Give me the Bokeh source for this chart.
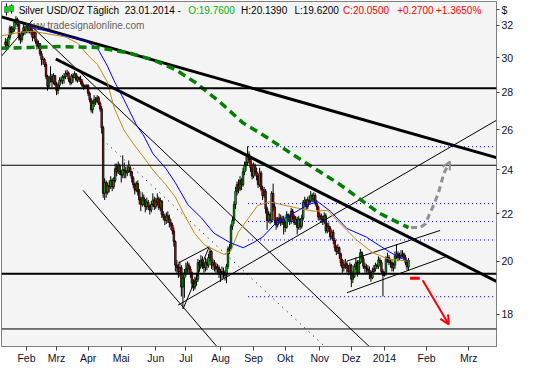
from bokeh.plotting import figure
from bokeh.models import (FixedTicker, Span, Label, Arrow, OpenHead, Range1d,
                          ColumnDataSource, BoxAnnotation)
from bokeh.embed import file_html
from bokeh.resources import INLINE

FONT = "Liberation Sans"

# ---------------- data (daily bars, Jan 14 2013 .. Jan 23 2014) ----------------
first_open = 30.8
closes = [
    30.95, 30.75, 31.25, 31.85, 31.6,
    31.75, 32.2, 32.4, 32.05, 31.2,
    31.1, 31.5, 31.85, 31.6, 31.95,
    31.7, 31.85, 31.6, 31.25, 31.55,
    31.0, 30.7, 30.85, 30.25, 29.9,
    29.9, 29.6, 28.9, 28.35, 28.8,
    28.9, 28.6, 28.95, 28.45, 28.1,
    28.4, 28.7, 28.65, 28.85, 28.9,
    29.05, 29.1, 28.75, 28.55, 28.95,
    28.85, 29.05, 28.7, 28.85, 28.75,
    28.6, 28.4, 28.3, 28.35, 28.4,
    27.95, 27.6, 27.05, 27.4, 27.6,
    27.5, 27.7, 27.4, 27.1, 26.1,
    22.9, 23.4, 22.95, 23.25, 23.2,
    23.5, 23.2, 23.5, 24.05, 23.9,
    24.2, 23.9, 23.75, 24.0, 23.95,
    23.85, 23.95, 24.1, 23.9, 23.6,
    23.3, 23.05, 23.35, 23.0, 22.6,
    22.4, 22.7, 22.55, 22.3, 22.5,
    22.3, 22.15, 22.4, 22.6, 22.3,
    22.5, 22.65, 22.25, 22.55, 21.95,
    21.85, 21.7, 21.9, 21.8, 21.6,
    21.5, 21.25, 20.8, 19.85, 19.75,
    19.6, 19.75, 19.0, 19.35, 19.55,
    19.7, 19.85, 19.7, 19.55, 19.15,
    19.0, 19.2, 19.3, 19.95, 19.85,
    20.05, 19.9, 19.75, 19.95, 19.85,
    20.15, 20.4, 19.85, 19.95, 19.8,
    19.7, 19.75, 19.5, 19.55, 19.6,
    19.55, 19.45, 19.8, 20.5, 20.55,
    21.45, 21.7, 22.4, 23.0, 23.3,
    23.1, 23.5, 23.3, 23.9, 24.2,
    24.35, 24.75, 24.5, 24.1, 23.7,
    24.2, 23.9, 23.7, 23.3, 23.85,
    23.1, 22.8, 23.0, 22.2, 21.7,
    21.95, 21.7, 22.9, 22.3, 21.7,
    21.5, 21.7, 21.8, 21.6, 21.75,
    21.6, 21.4, 21.95, 21.85, 21.65,
    22.1, 21.85, 21.6, 21.75, 21.4,
    21.75, 21.45, 21.8, 22.5, 22.6,
    22.3, 22.6, 22.55, 22.8, 22.65,
    22.8, 22.45, 22.3, 21.85, 21.9,
    21.75, 21.65, 21.9, 21.25, 21.45,
    21.35, 21.0, 21.2, 20.85, 20.55,
    20.4, 20.55, 20.3, 19.95, 19.75,
    19.85, 19.9, 19.75, 19.6, 19.85,
    19.3, 19.4, 19.8, 19.95, 19.55,
    19.95, 20.35, 20.1, 19.8, 19.75,
    19.7, 19.65, 19.55, 19.35, 19.6,
    19.7, 19.85, 19.8, 20.05, 19.95,
    19.6, 19.45, 19.5, 20.1, 20.15,
    19.95, 19.95, 19.75, 19.85, 20.2,
    20.3, 20.15, 20.2, 20.25, 20.3,
    20.15, 19.95, 19.78, 20.05,
]
highs = [
    31.2, 31.15, 31.4, 32.0, 31.95,
    31.95, 32.35, 32.6, 32.5, 32.15,
    31.4, 31.65, 32.1, 31.95, 32.15,
    32.1, 31.95, 32.0, 31.75, 31.7,
    31.6, 31.15, 31.05, 30.9, 30.4,
    30.1, 30.0, 29.75, 29.0, 28.95,
    29.5, 29.05, 29.1, 29.0, 28.6,
    28.55, 28.85, 28.9, 29.0, 29.1,
    29.25, 29.3, 29.2, 28.9, 29.05,
    29.1, 29.2, 29.1, 28.95, 28.9,
    28.95, 28.75, 28.5, 28.45, 28.45,
    28.45, 28.05, 27.7, 27.55, 27.85,
    27.75, 27.85, 27.8, 27.5, 27.25,
    26.2, 23.6, 23.5, 23.4, 23.5,
    23.7, 23.6, 23.65, 24.3, 24.3,
    24.4, 24.3, 24.0, 24.7, 24.35,
    24.15, 24.2, 24.45, 24.2, 23.95,
    23.7, 23.4, 23.45, 23.5, 23.1,
    22.75, 22.95, 22.85, 22.65, 22.7,
    22.6, 22.4, 22.55, 22.9, 22.75,
    22.7, 22.9, 22.75, 22.7, 22.6,
    22.1, 22.0, 22.05, 22.1, 21.95,
    21.75, 21.6, 21.4, 20.85, 20.05,
    19.9, 20.0, 19.85, 19.45, 19.7,
    19.95, 20.0, 19.95, 19.8, 19.6,
    19.3, 19.4, 19.55, 20.1, 20.05,
    20.25, 20.2, 20.0, 20.15, 20.1,
    20.3, 20.55, 20.45, 20.1, 20.05,
    19.95, 19.9, 19.85, 19.7, 19.8,
    19.75, 19.65, 19.9, 20.6, 20.7,
    21.55, 21.85, 22.55, 23.2, 23.45,
    23.55, 23.7, 23.6, 24.1, 24.4,
    24.65, 25.15, 24.9, 24.6, 24.3,
    24.35, 24.3, 24.1, 23.8, 24.1,
    23.95, 23.25, 23.2, 23.1, 22.3,
    22.1, 22.05, 23.0, 23.35, 22.5,
    21.85, 21.85, 22.0, 21.95, 21.9,
    21.9, 21.7, 22.1, 22.0, 21.95,
    22.25, 22.2, 21.95, 21.9, 21.85,
    21.9, 21.8, 21.95, 22.6, 22.75,
    22.65, 22.75, 22.8, 23.0, 22.9,
    22.95, 22.9, 22.6, 22.35, 22.05,
    22.0, 21.9, 22.05, 22.0, 21.6,
    21.6, 21.45, 21.3, 21.3, 20.95,
    20.65, 20.7, 20.6, 20.35, 20.1,
    20.05, 20.1, 20.0, 19.85, 19.95,
    19.9, 19.6, 19.9, 20.15, 20.05,
    20.05, 20.5, 20.4, 20.2, 19.95,
    19.9, 19.85, 19.8, 19.65, 19.75,
    19.85, 19.95, 19.9, 20.2, 20.15,
    20.05, 19.7, 19.6, 20.2, 20.35,
    20.25, 20.1, 20.05, 19.95, 20.4,
    20.7, 20.4, 20.35, 20.45, 20.45,
    20.35, 20.25, 20.05, 20.139,
]
lows = [
    30.6, 30.55, 30.65, 31.1, 31.4,
    31.45, 31.6, 32.0, 31.9, 31.05,
    30.85, 30.95, 31.35, 31.4, 31.5,
    31.5, 31.5, 31.4, 31.0, 31.15,
    30.85, 30.5, 30.55, 30.1, 29.55,
    29.6, 29.45, 28.75, 28.1, 28.2,
    28.55, 28.3, 28.45, 28.35, 27.85,
    27.9, 28.25, 28.5, 28.45, 28.5,
    28.75, 28.9, 28.6, 28.4, 28.45,
    28.55, 28.8, 28.6, 28.55, 28.6,
    28.45, 28.3, 28.15, 28.2, 28.3,
    27.8, 27.45, 26.9, 26.85, 27.2,
    27.3, 27.4, 27.3, 26.95, 25.8,
    22.7, 22.6, 22.7, 22.85, 22.95,
    23.1, 23.0, 23.1, 23.4, 23.7,
    23.8, 23.75, 23.4, 23.6, 23.6,
    23.6, 23.7, 23.85, 23.7, 23.4,
    23.15, 22.85, 22.95, 22.8, 22.4,
    22.1, 22.3, 22.35, 22.05, 22.15,
    22.15, 21.95, 22.05, 22.3, 22.15,
    22.2, 22.35, 22.15, 22.1, 21.8,
    21.7, 21.5, 21.55, 21.6, 21.4,
    21.3, 21.1, 20.6, 19.6, 19.5,
    19.35, 19.4, 18.65, 18.2, 18.6,
    19.4, 19.55, 19.5, 19.35, 18.95,
    18.85, 18.9, 19.05, 19.2, 19.6,
    19.75, 19.7, 19.55, 19.6, 19.65,
    19.75, 20.0, 19.7, 19.65, 19.6,
    19.5, 19.55, 19.35, 19.2, 19.3,
    19.35, 19.25, 19.15, 19.7, 20.3,
    20.45, 21.3, 21.55, 22.2, 22.8,
    22.9, 23.0, 23.05, 23.2, 23.75,
    23.95, 24.2, 24.3, 23.9, 23.55,
    23.6, 23.75, 23.5, 23.15, 23.2,
    23.0, 22.6, 22.7, 22.0, 21.3,
    21.6, 21.55, 21.6, 22.1, 21.55,
    21.3, 21.4, 21.55, 21.45, 21.5,
    21.1, 21.2, 21.35, 21.65, 21.5,
    21.55, 21.7, 21.5, 21.5, 21.1,
    21.3, 21.3, 21.35, 21.7, 22.35,
    22.15, 22.2, 22.4, 22.45, 22.5,
    22.5, 22.35, 22.15, 21.7, 21.7,
    21.6, 21.5, 21.55, 21.15, 21.15,
    21.2, 20.85, 20.9, 20.7, 20.4,
    20.25, 20.3, 20.1, 19.8, 19.55,
    19.6, 19.7, 19.55, 19.45, 19.5,
    19.0, 19.15, 19.35, 19.65, 19.4,
    19.5, 19.9, 19.95, 19.7, 19.55,
    19.55, 19.5, 19.3, 19.2, 19.3,
    19.5, 19.6, 19.7, 19.7, 19.8,
    19.5, 18.65, 19.4, 19.45, 19.95,
    19.85, 19.75, 19.6, 19.6, 19.7,
    20.1, 20.0, 20.05, 20.1, 20.15,
    20.05, 19.85, 19.65, 19.62,
]

# month ticks (bar index of first trading day of month)
month_ticks = [14, 34, 55, 77, 100, 120, 143, 165, 186, 209, 230, 252, 280, 308]
month_labels = ["Feb", "Mrz", "Apr", "Mai", "Jun", "Jul", "Aug", "Sep", "Okt",
                "Nov", "Dez", "2014", "Feb", "Mrz"]
price_ticks = [18, 20, 22, 24, 26, 28, 30, 32]
currency_label = "$"
currency_pos = 33.0   # unit label sits at the top of the price axis

# indicator lines (bar index, price)
blue_x = [14.8, 25.8, 40.0, 52.9, 61.3, 67.7, 72.3, 78.7, 87.1, 91.6, 98.1, 106.5, 112.9,
          121.3, 130.3, 138.7, 149.7, 158.1, 164.5, 171.0, 179.4, 190.3, 201.3, 207.7,
          216.1, 227.1, 240.0, 252.9, 261.3, 268]
blue_y = [31.86, 31.69, 31.33, 31.04, 30.57, 29.53, 28.65, 27.62, 26.24, 25.74, 24.78,
          24.08, 23.40, 22.39, 21.81, 21.15, 20.75, 20.55, 20.75, 20.99, 21.56, 21.97,
          22.39, 22.52, 22.10, 21.35, 20.99, 20.47, 20.17, 20.01]
orange_x = [-3.2, 9.7, 18.1, 29.0, 40.0, 48.4, 54.8, 61.3, 67.7, 72.3, 78.7, 85.2, 91.6,
            98.1, 106.5, 112.9, 119.4, 125.8, 132.3, 138.7, 145.2, 149.7, 154.8, 162.6,
            167.7, 175.5, 183.9, 194.8, 205.2, 214.2, 222.6, 233.5, 243.9, 254.8, 268]
orange_y = [31.33, 31.57, 31.63, 31.45, 31.27, 30.86, 30.16, 29.59, 28.59, 27.16, 25.99,
            25.26, 24.64, 23.99, 23.31, 22.74, 21.89, 21.15, 20.67, 20.47, 20.28, 20.40,
            21.19, 21.89, 22.35, 22.52, 22.39, 22.23, 22.10, 22.14, 21.56, 20.87, 20.36,
            20.09, 20.01]
green_x = [-3.2, 16.1, 35.5, 61.3, 82.6, 98.1, 112.9, 125.8, 141.9, 158.1, 171.0, 182.6,
           190.3, 205.2, 220.6, 235.5, 248.4, 268]
green_y = [30.57, 30.62, 30.68, 30.62, 30.28, 29.88, 29.31, 28.59, 27.52, 26.34, 25.74,
           25.16, 24.78, 24.08, 23.40, 22.65, 22.02, 21.39]

# projection scenario
up_x = [269.7, 275.5, 279.4, 281.9, 285.2, 288.4, 291.6]
up_y = [21.39, 21.39, 21.56, 21.97, 22.44, 23.04, 23.85]
up_tip = (295.5, 24.40)
down_flat_x = [269.0, 275.5]
down_flat_y = [19.34, 19.34]
down_arrow = (277.4, 19.26, 294.8, 17.64)

# horizontal levels
hlevels_thick = [28.23, 19.51]
hlevels_thin = [24.22, 17.48]
fib_start = 161.3
fib_levels = [25.13, 22.44, 21.65, 20.87, 18.64]

# trend lines (x0, y0, x1, y1)
thick_lines = [(-2.6, 32.55, 326.5, 24.59), (33.5, 29.93, 326.5, 19.22)]
thin_lines = [(16.1, 32.06, 241.9, 16.88), (51.6, 23.04, 140.6, 16.88),
              (114.8, 18.33, 326.5, 26.49), (118.1, 18.19, 135.5, 20.59),
              (114.8, 19.93, 135.5, 20.59), (227.1, 18.79, 293.5, 20.20),
              (227.1, 20.01, 289.0, 21.27), (-2.6, 30.1, 18.1, 32.35)]
dotted_lines = [(64.5, 25.50, 212.3, 16.88)]

# ---------------- layout ----------------
X_START, X_END = -2.6, 326.5
Y_LOW, Y_HIGH = 16.88, 33.56
FW, FH = 495, 345

opens = [first_open] + closes[:-1]
idx = list(range(len(closes)))
tops = [max(o, c) for o, c in zip(opens, closes)]
bots = [min(o, c) for o, c in zip(opens, closes)]
cols = ["#00ff00" if c >= o else "#ff0000" for o, c in zip(opens, closes)]
src = ColumnDataSource(dict(x=idx, hi=highs, lo=lows, top=tops, bot=bots, col=cols))

p = figure(frame_width=FW, frame_height=FH, output_backend="svg", toolbar_location=None,
           y_axis_type="log", y_axis_location="right",
           x_range=Range1d(X_START, X_END), y_range=Range1d(Y_LOW, Y_HIGH),
           min_border_left=1, min_border_top=1, min_border_right=22, min_border_bottom=18)
p.background_fill_color = "#f4f4f4"
p.border_fill_color = "white"
p.outline_line_color = "#808080"
p.xgrid.visible = False
p.ygrid.visible = False

p.xaxis.ticker = FixedTicker(ticks=month_ticks)
p.xaxis.major_label_overrides = {t: l for t, l in zip(month_ticks, month_labels)}
p.xaxis.major_label_text_align = "left"
p.xaxis.minor_tick_line_color = None
p.xaxis.major_tick_out = 4
p.xaxis.major_tick_in = 0
p.xaxis.major_label_standoff = 1
yt = price_ticks + [currency_pos]
p.yaxis.ticker = FixedTicker(ticks=yt)
ov = {t: str(t) for t in price_ticks}
ov[currency_pos] = currency_label
p.yaxis.major_label_overrides = ov
p.yaxis.minor_tick_line_color = None
p.yaxis.major_tick_out = 3
p.yaxis.major_tick_in = 0
p.yaxis.major_label_standoff = 2
for ax in (p.xaxis, p.yaxis):
    ax.axis_line_color = "#808080"
    ax.major_tick_line_color = "#404040"
    ax.major_label_text_font = FONT
    ax.major_label_text_font_size = "10.5px"
    ax.major_label_text_color = "#101030"

# candles
p.segment(x0="x", y0="lo", x1="x", y1="hi", source=src, line_color="black", line_width=1)
p.vbar(x="x", width=1.0, top="top", bottom="bot", source=src, fill_color="col",
       line_color="black", line_width=0.8)

# horizontal levels
for lv in hlevels_thick:
    p.add_layout(Span(location=lv, dimension="width", line_color="black", line_width=2))
for lv in hlevels_thin:
    p.add_layout(Span(location=lv, dimension="width", line_color="black", line_width=1))
p.segment(x0=[fib_start] * len(fib_levels), y0=fib_levels,
          x1=[X_END] * len(fib_levels), y1=fib_levels,
          line_color="#0000ff", line_width=1, line_dash="1 3")

# trend lines
p.segment(x0=[l[0] for l in thin_lines], y0=[l[1] for l in thin_lines],
          x1=[l[2] for l in thin_lines], y1=[l[3] for l in thin_lines],
          line_color="black", line_width=1)
p.segment(x0=[l[0] for l in dotted_lines], y0=[l[1] for l in dotted_lines],
          x1=[l[2] for l in dotted_lines], y1=[l[3] for l in dotted_lines],
          line_color="black", line_width=1, line_dash="1 5")
p.segment(x0=[l[0] for l in thick_lines], y0=[l[1] for l in thick_lines],
          x1=[l[2] for l in thick_lines], y1=[l[3] for l in thick_lines],
          line_color="black", line_width=3)

# moving averages
p.line(orange_x, orange_y, line_color="#c08a10", line_width=1)
p.line(blue_x, blue_y, line_color="#0000ff", line_width=1)
p.line(green_x, green_y, line_color="#008000", line_width=3.5, line_dash="8 5")

# scenarios
p.line(up_x, up_y, line_color="#909090", line_width=3, line_dash="6 4")
p.add_layout(Arrow(end=OpenHead(line_color="#909090", line_width=2, size=8),
                   x_start=up_x[-1], y_start=up_y[-1], x_end=up_tip[0], y_end=up_tip[1],
                   line_color="#909090", line_width=3, line_dash="6 4"))
p.line(down_flat_x, down_flat_y, line_color="#ff0000", line_width=3)
p.add_layout(Arrow(end=OpenHead(line_color="#ff0000", line_width=2, size=9),
                   x_start=down_arrow[0], y_start=down_arrow[1],
                   x_end=down_arrow[2], y_end=down_arrow[3],
                   line_color="#ff0000", line_width=2))

# header icon (two tiny candles)
for l_, r_, t_, b_ in [(4.5, 5.5, FH - 2, FH - 14), (9.5, 10.5, FH - 3, FH - 12)]:
    p.add_layout(BoxAnnotation(left=l_, right=r_, top=t_, bottom=b_, left_units="screen",
                               right_units="screen", top_units="screen", bottom_units="screen",
                               fill_color="black", fill_alpha=1, line_color=None))
for l_, r_, t_, b_ in [(3, 7, FH - 5, FH - 11), (8, 12, FH - 4, FH - 10)]:
    p.add_layout(BoxAnnotation(left=l_, right=r_, top=t_, bottom=b_, left_units="screen",
                               right_units="screen", top_units="screen", bottom_units="screen",
                               fill_color="#00e000", fill_alpha=1, line_color="black",
                               line_width=1))

# texts
p.add_layout(Label(x=11.6, y=FH - 24, x_units="screen", y_units="screen",
                   text="\u00a9 www.tradesignalonline.com", text_font=FONT,
                   text_font_size="10px", text_color="#404040", text_alpha=0.85,
                   text_baseline="middle"))
header = [
    (17.2, "Silver USD/OZ T\u00e4glich", "black"),
    (123.2, "23.01.2014 -", "black"),
    (186.7, "O:19.7600", "#00b000"),
    (239.6, "H:20.1390", "black"),
    (292.9, "L:19.6200", "black"),
    (341.4, "C:20.0500", "#ff0000"),
    (395.7, "+0.2700", "#ff0000"),
    (434.5, "+1.3650%", "#ff0000"),
]
for hx, ht, hc in header:
    p.add_layout(Label(x=hx, y=FH - 8.6, x_units="screen", y_units="screen", text=ht,
                       text_font=FONT, text_font_size="10px", text_color=hc,
                       text_baseline="middle"))

open("out.html", "w").write(file_html(p, INLINE))
